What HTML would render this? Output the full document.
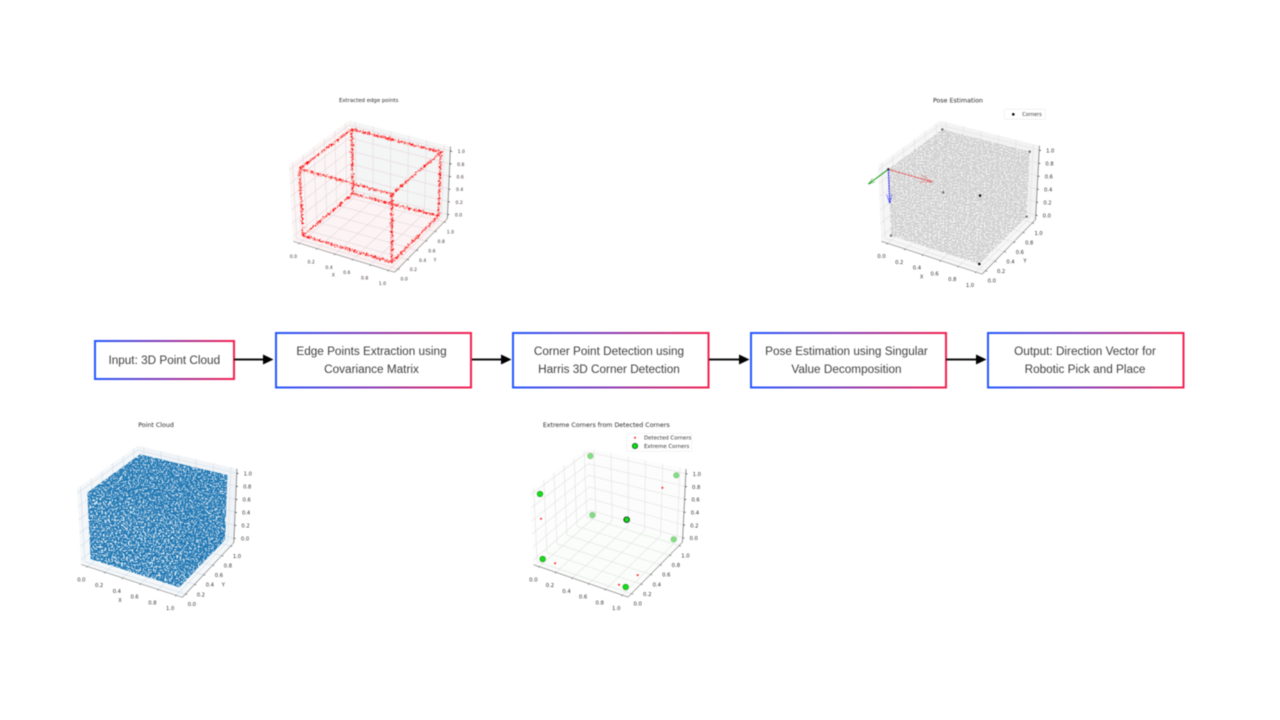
<!DOCTYPE html>
<html lang="en">
<head>
<meta charset="utf-8">
<title>3D point cloud pose estimation pipeline</title>
<style>
html,body{margin:0;padding:0;background:#fff;width:1280px;height:720px;overflow:hidden}
svg{display:block}
.flow-text{font-family:"Liberation Sans",sans-serif;font-size:11.75px;fill:#404040;text-anchor:middle}
.plot-title{font-family:"DejaVu Sans",sans-serif;fill:#2a2a2a;text-anchor:middle}
.legend-text{font-family:"DejaVu Sans",sans-serif;fill:#333}
</style>
</head>
<body>
<svg id="stage" xmlns="http://www.w3.org/2000/svg" width="1280" height="720" viewBox="0 0 1280 720">
  <defs>
    <linearGradient id="boxGrad" x1="0" y1="0" x2="1" y2="0">
      <stop offset="0" stop-color="#2458ff"/>
      <stop offset=".5" stop-color="#8a3cb4"/>
      <stop offset="1" stop-color="#f5204f"/>
    </linearGradient>
    <filter id="softPlot" filterUnits="userSpaceOnUse" x="0" y="0" width="1280" height="720" color-interpolation-filters="sRGB">
      <feGaussianBlur stdDeviation=".45"/>
    </filter>
    <filter id="softFlow" filterUnits="userSpaceOnUse" x="0" y="0" width="1280" height="720" color-interpolation-filters="sRGB">
      <feGaussianBlur stdDeviation=".42"/>
    </filter>
    <filter id="speckleA" filterUnits="userSpaceOnUse" x="0" y="0" width="1280" height="720" color-interpolation-filters="sRGB">
      <feTurbulence type="fractalNoise" baseFrequency=".6" numOctaves="2" seed="3"/>
      <feColorMatrix values="0 0 0 0 0 0 0 0 0 0 0 0 0 0 0 0 0 0 14 -6.6"/>
      <feComposite in="SourceGraphic" operator="in"/>
    </filter>
    <filter id="speckleB" filterUnits="userSpaceOnUse" x="0" y="0" width="1280" height="720" color-interpolation-filters="sRGB">
      <feTurbulence type="fractalNoise" baseFrequency=".56" numOctaves="2" seed="11"/>
      <feColorMatrix values="0 0 0 0 0 0 0 0 0 0 0 0 0 0 0 0 0 0 14 -6.6"/>
      <feComposite in="SourceGraphic" operator="in"/>
    </filter>
    <filter id="speckleGrey" filterUnits="userSpaceOnUse" x="0" y="0" width="1280" height="720" color-interpolation-filters="sRGB">
      <feTurbulence type="fractalNoise" baseFrequency=".65" numOctaves="2" seed="23"/>
      <feColorMatrix values="0 0 0 0 0 0 0 0 0 0 0 0 0 0 0 0 0 0 14 -5.9"/>
      <feComposite in="SourceGraphic" operator="in"/>
    </filter>
    <filter id="edgeJitter" filterUnits="userSpaceOnUse" x="0" y="0" width="1280" height="720" color-interpolation-filters="sRGB">
      <feTurbulence type="fractalNoise" baseFrequency=".45" numOctaves="2" seed="7" result="n"/>
      <feDisplacementMap in="SourceGraphic" in2="n" scale="5" xChannelSelector="R" yChannelSelector="G"/>
    </filter>
  </defs>

  <g id="plotEdge" filter="url(#softPlot)"></g>
  <g id="plotPose" filter="url(#softPlot)"></g>
  <g id="plotCloud" filter="url(#softPlot)"></g>
  <g id="plotExtreme" filter="url(#softPlot)"></g>

  <g filter="url(#softPlot)">
    <text class="plot-title" x="368.7" y="102" font-size="5.4">Extracted edge points</text>
    <text class="plot-title" x="958" y="102.7" font-size="6.3">Pose Estimation</text>
    <text class="plot-title" x="156" y="427" font-size="6.3">Point Cloud</text>
    <text class="plot-title" x="606.3" y="427" font-size="6.3">Extreme Corners from Detected Corners</text>
  </g>

  <g filter="url(#softPlot)">
    <rect x="1004.3" y="109.3" width="41" height="10" rx="1" fill="#fff" stroke="#e4e4e4" stroke-width=".5"/>
    <circle cx="1013.3" cy="114.3" r="1.3" fill="#000"/>
    <text class="legend-text" x="1022.3" y="116" font-size="5">Corners</text>
  </g>
  <g filter="url(#softPlot)">
    <rect x="626.7" y="433.3" width="65" height="18" rx="1" fill="#fff" stroke="#e8e8e8" stroke-width=".5"/>
    <circle cx="635" cy="437.8" r="1" fill="#f22"/>
    <circle cx="635" cy="446" r="2.7" fill="#08e408" stroke="#043" stroke-width=".7"/>
    <text class="legend-text" x="644" y="439.6" font-size="5.4">Detected Corners</text>
    <text class="legend-text" x="644" y="447.9" font-size="5.4">Extreme Corners</text>
  </g>

  <g filter="url(#softFlow)">
    <rect x="95" y="341" width="139" height="38" fill="#fff" stroke="url(#boxGrad)" stroke-width="2"/>
    <text class="flow-text" x="164.3" y="364">Input: 3D Point Cloud</text>

    <rect x="276" y="333" width="195" height="54.5" fill="#fff" stroke="url(#boxGrad)" stroke-width="2"/>
    <text class="flow-text" x="371.5" y="355">Edge Points Extraction using</text>
    <text class="flow-text" x="371.5" y="373">Covariance Matrix</text>

    <rect x="513" y="333" width="195.5" height="54.5" fill="#fff" stroke="url(#boxGrad)" stroke-width="2"/>
    <text class="flow-text" x="609" y="355">Corner Point Detection using</text>
    <text class="flow-text" x="609" y="373">Harris 3D Corner Detection</text>

    <rect x="751" y="333" width="195" height="54.5" fill="#fff" stroke="url(#boxGrad)" stroke-width="2"/>
    <text class="flow-text" x="846.5" y="355">Pose Estimation using Singular</text>
    <text class="flow-text" x="846.5" y="373">Value Decomposition</text>

    <rect x="988" y="333" width="195.5" height="54.5" fill="#fff" stroke="url(#boxGrad)" stroke-width="2"/>
    <text class="flow-text" x="1085" y="355">Output: Direction Vector for</text>
    <text class="flow-text" x="1085" y="373">Robotic Pick and Place</text>

    <g>
      <line x1="234" y1="359.5" x2="265" y2="359.5" stroke="#111" stroke-width="2"/>
      <polygon points="263,354.5 273.5,359.5 263,364.5" fill="#000"/>
    </g>
    <g>
      <line x1="472" y1="359.5" x2="503" y2="359.5" stroke="#111" stroke-width="2"/>
      <polygon points="501,354.5 511.5,359.5 501,364.5" fill="#000"/>
    </g>
    <g>
      <line x1="709" y1="359.5" x2="741" y2="359.5" stroke="#111" stroke-width="2"/>
      <polygon points="739,354.5 749.5,359.5 739,364.5" fill="#000"/>
    </g>
    <g>
      <line x1="946" y1="359.5" x2="978" y2="359.5" stroke="#111" stroke-width="2"/>
      <polygon points="976,354.5 986.5,359.5 976,364.5" fill="#000"/>
    </g>
  </g>
</svg>

<script>
// ---- chart data (unit-cube coordinates) ----
const tickValues = [0, 0.2, 0.4, 0.6, 0.8, 1];
const tickLabels = ['0.0', '0.2', '0.4', '0.6', '0.8', '1.0'];
const cloudXRange = [0, 1];
const cloudYRange = [0, 1];
const cloudZRange = [0, 1];
const edgeStarts = [[0,0,0],[1,0,0],[1,1,0],[0,1,0],[0,0,1],[1,0,1],[1,1,1],[0,1,1],[0,0,0],[1,0,0],[1,1,0],[0,1,0]];
const edgeEnds   = [[1,0,0],[1,1,0],[0,1,0],[0,0,0],[1,0,1],[1,1,1],[0,1,1],[0,0,1],[0,0,1],[1,0,1],[1,1,1],[0,1,1]];
const poseCorners = [[0,0,1],[1,0,1],[1,0,0],[0,0,0],[1,1,1],[0,1,1],[1,1,0],[0,1,0]];
const poseOrigin = [0, 0, 1];
const poseVectorX = [0.48, 0, 0];
const poseVectorY = [0, -0.37, 0];
const poseVectorZ = [0, 0, -0.51];
const detectedCorners = [[0,0,0.62],[0.15,0,0],[0.92,0,0],[1,0.25,0],[1,0.72,1]];
const extremeCorners = [[0,1,1],[1,1,1],[0,0,1],[1,0,1],[0,1,0],[1,1,0],[0,0,0],[1,0,0]];

// ---- figure geometry ----
const MARGIN = 0.07;
const NS = 'http://www.w3.org/2000/svg';
const plotEdge = {
  g: 'plotEdge', ox: 270, oy: 90, font: 4.6, text: '#433', xl: [190,555], yl: [495,510],
  c: [[98,437],[365,517],[505,378],[248,312],[88,237],[365,313],[512,187],[245,118]],
  grid: '#e6d8da', floor: '#fbf3f4', wallL: '#fbf5f5', wallR: '#f4f5f5'
};
const plotPose = {
  g: 'plotPose', ox: 860, oy: 90, font: 5.2, text: '#333', xl: [185,560], yl: [495,512],
  c: [[93,437],[358,522],[500,380],[250,307],[85,238],[360,317],[509,185],[247,118]],
  grid: '#e0e0e0', floor: '#f7f7f7', wallL: '#f6f6f6', wallR: '#f3f3f3'
};
const plotCloud = {
  g: 'plotCloud', ox: 60, oy: 415, font: 5.2, text: '#333', xl: [180,556], yl: [490,509],
  c: [[92,432],[358,517],[495,375],[245,310],[82,233],[358,315],[502,180],[240,118]],
  grid: '#d0dde8', floor: '#f5f8fa', wallL: '#f4f7f9', wallR: '#f1f4f7'
};
const plotExtreme = {
  g: 'plotExtreme', ox: 515, oy: 415, font: 5.3, text: '#333', xl: null, yl: null,
  c: [[83,432],[332,516],[476,373],[232,300],[75,237],[335,314],[484,181],[226,123]],
  grid: '#dfe3df', floor: '#fbfdfb', wallL: '#fdfdfd', wallR: '#fcfcfc'
};

// axis function: trilinear map of data coordinates to page pixels
function project(p, x, y, z) {
  const c = p.c;
  function axis(i) {
    const a = c[0][i] * (1 - x) + c[1][i] * x;
    const b = c[3][i] * (1 - x) + c[2][i] * x;
    const d = c[4][i] * (1 - x) + c[5][i] * x;
    const e = c[7][i] * (1 - x) + c[6][i] * x;
    const low = a * (1 - y) + b * y;
    const high = d * (1 - y) + e * y;
    return low * (1 - z) + high * z;
  }
  return [p.ox + axis(0) / 3, p.oy + axis(1) / 3];
}
function pts(p, list) {
  return list.map(function (q) { return project(p, q[0], q[1], q[2]).map(function (v) { return v.toFixed(2); }).join(','); }).join(' ');
}
function addPolygon(parent, p, list, fill, name, filter, opacity) {
  const el = document.createElementNS(NS, 'polygon');
  
  
  el.setAttribute('points', pts(p, list));
  el.setAttribute('fill', fill);
  if (filter) el.setAttribute('filter', filter);
  if (opacity !== undefined) el.setAttribute('fill-opacity', opacity);
  parent.appendChild(el);
  return el;
}
function addSegment(parent, p, a, b, stroke, width, name) {
  const s = project(p, a[0], a[1], a[2]);
  const e = project(p, b[0], b[1], b[2]);
  const el = document.createElementNS(NS, 'line');
  
  
  el.setAttribute('x1', s[0]);
  el.setAttribute('y1', s[1]);
  el.setAttribute('x2', e[0]);
  el.setAttribute('y2', e[1]);
  el.setAttribute('stroke', stroke);
  el.setAttribute('stroke-width', width);
  parent.appendChild(el);
  return el;
}
function addLabel(parent, px, py, str, p, name) {
  const el = document.createElementNS(NS, 'text');
  
  
  el.setAttribute('x', px);
  el.setAttribute('y', py + p.font * 0.36);
  el.setAttribute('text-anchor', 'middle');
  el.setAttribute('font-family', '"DejaVu Sans", sans-serif');
  el.setAttribute('font-size', p.font);
  el.setAttribute('fill', p.text);
  el.textContent = str;
  parent.appendChild(el);
}
function addDot(parent, p, q, r, fill, opacity, stroke, strokeWidth, name) {
  const s = project(p, q[0], q[1], q[2]);
  const el = document.createElementNS(NS, 'circle');
  
  
  el.setAttribute('cx', s[0]);
  el.setAttribute('cy', s[1]);
  el.setAttribute('r', r);
  el.setAttribute('fill', fill);
  el.setAttribute('fill-opacity', opacity);
  if (stroke) {
    el.setAttribute('stroke', stroke);
    el.setAttribute('stroke-width', strokeWidth);
  }
  parent.appendChild(el);
}

function drawAxes(p) {
  const g = document.getElementById(p.g);
  const lo = -MARGIN, hi = 1 + MARGIN;
  addPolygon(g, p, [[lo,lo,lo],[hi,lo,lo],[hi,hi,lo],[lo,hi,lo]], p.floor, 'floor-pane');
  addPolygon(g, p, [[lo,lo,lo],[lo,hi,lo],[lo,hi,hi],[lo,lo,hi]], p.wallL, 'left-wall-pane');
  addPolygon(g, p, [[lo,hi,lo],[hi,hi,lo],[hi,hi,hi],[lo,hi,hi]], p.wallR, 'back-wall-pane');
  tickValues.forEach(function (t) {
    addSegment(g, p, [t,lo,lo], [t,hi,lo], p.grid, .6, 'floor-grid-x');
    addSegment(g, p, [lo,t,lo], [hi,t,lo], p.grid, .6, 'floor-grid-y');
    addSegment(g, p, [lo,t,lo], [lo,t,hi], p.grid, .6, 'left-wall-grid-y');
    addSegment(g, p, [lo,lo,t], [lo,hi,t], p.grid, .6, 'left-wall-grid-z');
    addSegment(g, p, [t,hi,lo], [t,hi,hi], p.grid, .6, 'back-wall-grid-x');
    addSegment(g, p, [lo,hi,t], [hi,hi,t], p.grid, .6, 'back-wall-grid-z');
  });
}
function drawAxisLines(p) {
  const g = document.getElementById(p.g);
  const lo = -MARGIN, hi = 1 + MARGIN;
  addSegment(g, p, [lo,lo,lo], [hi,lo,lo], '#777', .6, 'x-axis-line');
  addSegment(g, p, [hi,lo,lo], [hi,hi,lo], '#777', .6, 'y-axis-line');
  addSegment(g, p, [hi,hi,lo], [hi,hi,hi], '#555', .6, 'z-axis-line');
  tickValues.forEach(function (t, i) {
    addSegment(g, p, [t,lo,lo], [t,lo - 0.02,lo], '#555', .6, 'x-tick');
    addSegment(g, p, [hi,t,lo], [hi + 0.02,t,lo], '#555', .6, 'y-tick');
    addSegment(g, p, [hi,hi,t], [hi + 0.02,hi,t], '#333', .7, 'z-tick');
    const a = project(p, t, lo, lo);
    addLabel(g, a[0] - 6, a[1] + 13, tickLabels[i], p, 'x-tick-label');
    const b = project(p, hi, t, lo);
    addLabel(g, b[0] + 6.3, b[1] + 10, tickLabels[i], p, 'y-tick-label');
    const c = project(p, hi, hi, t);
    addLabel(g, c[0] + 11, c[1] + 0.6, tickLabels[i], p, 'z-tick-label');
  });
  if (p.xl) {
    addLabel(g, p.ox + p.xl[0] / 3, p.oy + p.xl[1] / 3, 'X', p, 'x-axis-title');
    addLabel(g, p.ox + p.yl[0] / 3, p.oy + p.yl[1] / 3, 'Y', p, 'y-axis-title');
  }
}

// Dense cloud: the six cube faces spanned by the cloud ranges, rendered with a grain texture.
function drawCloudFaces(p, fillColor, filterA, filterB, topShade, frontShade) {
  const g = document.getElementById(p.g);
  const x0 = cloudXRange[0], x1 = cloudXRange[1];
  const y0 = cloudYRange[0], y1 = cloudYRange[1];
  const z0 = cloudZRange[0], z1 = cloudZRange[1];
  const bottom = [[x0,y0,z0],[x1,y0,z0],[x1,y1,z0],[x0,y1,z0]];
  const left = [[x0,y0,z0],[x0,y1,z0],[x0,y1,z1],[x0,y0,z1]];
  const back = [[x0,y1,z0],[x1,y1,z0],[x1,y1,z1],[x0,y1,z1]];
  const top = [[x0,y0,z1],[x1,y0,z1],[x1,y1,z1],[x0,y1,z1]];
  const front = [[x0,y0,z0],[x1,y0,z0],[x1,y0,z1],[x0,y0,z1]];
  const right = [[x1,y0,z0],[x1,y1,z0],[x1,y1,z1],[x1,y0,z1]];
  addPolygon(g, p, top, fillColor, 'cloud-top-shade', null, topShade);
  addPolygon(g, p, right, fillColor, 'cloud-right-shade', null, topShade);
  addPolygon(g, p, front, fillColor, 'cloud-front-shade', null, frontShade);
  addPolygon(g, p, bottom, fillColor, 'cloud-bottom-face', filterA);
  addPolygon(g, p, left, fillColor, 'cloud-left-face', filterA);
  addPolygon(g, p, back, fillColor, 'cloud-back-face', filterA);
  addPolygon(g, p, top, fillColor, 'cloud-top-face', filterB);
  addPolygon(g, p, front, fillColor, 'cloud-front-face', filterB);
  addPolygon(g, p, right, fillColor, 'cloud-right-face', filterB);
}

function drawEdges(p) {
  const g = document.getElementById(p.g);
  const wrap = document.createElementNS(NS, 'g');
  
  
  wrap.setAttribute('filter', 'url(#edgeJitter)');
  g.appendChild(wrap);
  edgeStarts.forEach(function (a, i) {
    const halo = addSegment(wrap, p, a, edgeEnds[i], '#ffb0b0', 2.6, 'edge-points-halo');
    halo.setAttribute('stroke-opacity', '.22');
    const back = addSegment(wrap, p, a, edgeEnds[i], '#ff0000', 1.7, 'edge-points');
    back.setAttribute('stroke-dasharray', '1.6 .9 .9 1.3 2.2 .8 1 1.6 .8 1');
    const front = addSegment(wrap, p, a, edgeEnds[i], '#ff0000', 1, 'edge-points-scatter');
    front.setAttribute('stroke-dasharray', '.8 2 1.2 2.8 .7 1.6');
    front.setAttribute('stroke-dashoffset', '1.5');
    front.setAttribute('transform', 'translate(.9 -.8)');
  });
}

function drawArrow(g, p, origin, vec, color, width, dash, name) {
  const tip = [origin[0] + vec[0], origin[1] + vec[1], origin[2] + vec[2]];
  const shaft = addSegment(g, p, origin, tip, color, width, name + '-shaft');
  if (dash) shaft.setAttribute('stroke-dasharray', dash);
  const s = project(p, origin[0], origin[1], origin[2]);
  const e = project(p, tip[0], tip[1], tip[2]);
  const ang = Math.atan2(s[1] - e[1], s[0] - e[0]);
  const len = Math.hypot(e[0] - s[0], e[1] - s[1]) * 0.28;
  [-0.3, 0.3].forEach(function (d) {
    const el = document.createElementNS(NS, 'line');
    
    
    el.setAttribute('x1', e[0]);
    el.setAttribute('y1', e[1]);
    el.setAttribute('x2', e[0] + Math.cos(ang + d) * len);
    el.setAttribute('y2', e[1] + Math.sin(ang + d) * len);
    el.setAttribute('stroke', color);
    el.setAttribute('stroke-width', width * 0.8);
    el.setAttribute('stroke-opacity', '.6');
    g.appendChild(el);
  });
}

// ---- render ----
drawAxes(plotEdge);
drawEdges(plotEdge);
drawAxisLines(plotEdge);

drawAxes(plotPose);
drawCloudFaces(plotPose, '#cfcfcf', 'url(#speckleGrey)', 'url(#speckleGrey)', 0, 0);
drawAxisLines(plotPose);
const poseGroup = document.getElementById('plotPose');
poseCorners.forEach(function (q, i) {
  addDot(poseGroup, plotPose, q, 1.25, i < 3 ? '#000' : '#333', i < 3 ? 1 : 0.65, null, 0, 'corner-point');
});
drawArrow(poseGroup, plotPose, poseOrigin, poseVectorX, '#ee2a2a', .8, '2.5 .8', 'pose-x-arrow');
drawArrow(poseGroup, plotPose, poseOrigin, poseVectorY, '#159a15', 1, null, 'pose-y-arrow');
drawArrow(poseGroup, plotPose, poseOrigin, poseVectorZ, '#1414ff', 1, '2 .6', 'pose-z-arrow');

drawAxes(plotCloud);
drawCloudFaces(plotCloud, '#1f77b4', 'url(#speckleA)', 'url(#speckleB)', 0.12, 0);
drawAxisLines(plotCloud);

drawAxes(plotExtreme);
drawAxisLines(plotExtreme);
const extremeGroup = document.getElementById('plotExtreme');
detectedCorners.forEach(function (q) {
  addDot(extremeGroup, plotExtreme, q, 1, '#f22', 1, null, 0, 'detected-corner');
});
extremeCorners.forEach(function (q) {
  const front = q[1] === 0;
  const key = q[0] === 1 && q[1] === 0 && q[2] === 1;
  addDot(extremeGroup, plotExtreme, q, 2.8, front ? '#08dc08' : '#30c830', front ? 0.95 : 0.6, key ? '#021' : (front ? '#1f8f1f' : '#86c486'), key ? .8 : .6, 'extreme-corner');
});
</script>
</body>
</html>
